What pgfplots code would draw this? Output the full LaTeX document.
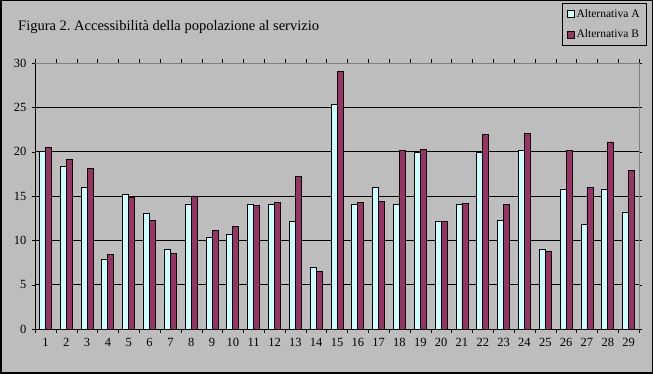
\documentclass[border=0pt]{standalone}
\usepackage{fontspec}
\setmainfont{Liberation Serif}
\usepackage{pgfplots}
\pgfplotsset{compat=1.18}
\definecolor{bg}{RGB}{189,189,189}
\definecolor{colA}{RGB}{204,255,255}
\definecolor{colB}{RGB}{153,51,102}
\definecolor{frame}{RGB}{128,128,128}
\pgfplotstableread{
x A B
1 20 20.5
2 18.3 19.1
3 16 18.1
4 7.9 8.4
5 15.2 14.8
6 13 12.2
7 9 8.5
8 14.1 15
9 10.3 11.1
10 10.7 11.6
11 14.1 13.9
12 14 14.3
13 12.1 17.2
14 7 6.5
15 25.3 29
16 14 14.3
17 16 14.4
18 14 20.1
19 19.9 20.3
20 12.1 12.1
21 14 14.2
22 19.9 21.9
23 12.2 14
24 20.1 22.1
25 9 8.7
26 15.8 20.1
27 11.8 16
28 15.8 21.1
29 13.2 17.9
}\data
\begin{document}
\begin{tikzpicture}
\fill[bg] (0pt,0pt) rectangle (653pt,374pt);
\draw[black, line width=1.5pt] (0.75pt,0.75pt) rectangle (652.25pt,373.25pt);
\node[anchor=west, font=\fontsize{14.5}{16}\selectfont, inner sep=0pt] at (18pt,347pt) {Figura 2.\ Accessibilità della popolazione al servizio};
\begin{axis}[
  at={(35pt,45pt)}, anchor=south west,
  scale only axis, width=604pt, height=266pt,
  ybar=0pt, bar width=6pt,
  xmin=0.5, xmax=29.5, ymin=0, ymax=30,
  xtick={1,...,29}, ytick={0,5,...,30},
  xtick style={draw=none},
  extra x ticks={0.5,1.5,...,29.5},
  extra x tick labels={},
  extra x tick style={xtick style={draw=black}, major tick length=4pt},
  tick align=outside, major tick length=3pt,
  ytick style={draw=black},
  ymajorgrids, major grid style={black, line width=0.75pt},
  axis line style={black, line width=0.75pt},
  tick label style={font=\fontsize{12.5}{14}\selectfont},
  /pgf/number format/assume math mode=true,
  xticklabel style={yshift=-3pt},
  yticklabel style={xshift=-2pt},
  legend style={at={(1.0132,1.2256)}, anchor=north east, fill=bg, draw=black,
    line width=0.75pt, font=\fontsize{11.5}{13}\selectfont, row sep=7pt,
    inner xsep=5pt, inner ysep=4pt},
  legend cell align=left,
  legend image code/.code={\draw[#1, line width=0.6pt] (0pt,-3.5pt) rectangle (7pt,3.5pt);},
  after end axis/.code={
    \draw[frame, line width=0.75pt] (rel axis cs:0,1) -- (rel axis cs:1,1) -- (rel axis cs:1,0);
  },
]
\addplot[fill=colA, draw=black, line width=0.8pt] table[x=x, y=A] {\data};
\addplot[fill=colB, draw=black, line width=0.8pt] table[x=x, y=B] {\data};
\legend{Alternativa A, Alternativa B}
\end{axis}
\end{tikzpicture}
\end{document}
